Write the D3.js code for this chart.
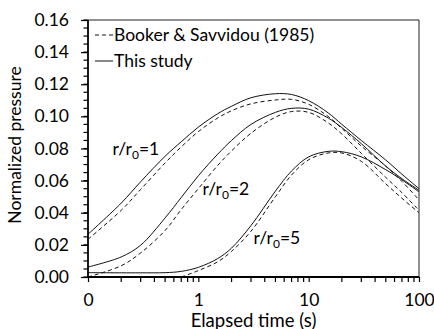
<!DOCTYPE html>
<html>
<head>
<meta charset="utf-8">
<script src="https://cdn.jsdelivr.net/npm/d3@7/dist/d3.min.js"></script>
<style>
  body { margin: 0; background: #fff; }
  svg { display: block; }
  text { font-family: Lato, "Open Sans", sans-serif; fill: #000; }
</style>
</head>
<body>
<svg id="chart" width="434" height="329"></svg>
<script>
// Elapsed time (s) at which each curve is sampled
const times = [0.1, 0.2, 0.3, 0.5, 0.7, 1, 1.5, 2, 3, 5, 7, 10, 15, 20, 30, 50, 70, 100];

// Normalized pressure, this study (solid)
const studyR1 = [0.0266, 0.046, 0.0593, 0.0752, 0.0842, 0.0933, 0.1017, 0.1063, 0.1116, 0.1141, 0.1136, 0.1098, 0.1022, 0.0950, 0.0850, 0.0728, 0.0640, 0.0550];
const studyR2 = [0.0062, 0.0125, 0.0198, 0.0368, 0.0495, 0.0630, 0.0765, 0.0850, 0.0950, 0.1025, 0.1050, 0.1045, 0.0990, 0.0930, 0.0830, 0.0690, 0.0612, 0.0540];
const studyR5 = [0.0027, 0.0026, 0.0026, 0.0027, 0.0035, 0.0060, 0.0115, 0.0180, 0.0320, 0.0535, 0.0660, 0.0748, 0.0782, 0.0780, 0.0748, 0.0668, 0.0605, 0.0530];

// Normalized pressure, Booker & Savvidou (1985) (dashed)
const bookerR1 = [0.0235, 0.0415, 0.0545, 0.0710, 0.0810, 0.0905, 0.0990, 0.1035, 0.1078, 0.1102, 0.1106, 0.1075, 0.1000, 0.0925, 0.0815, 0.0690, 0.0595, 0.0480];
const bookerR2 = [0.0, 0.0070, 0.0150, 0.0290, 0.0420, 0.0550, 0.0695, 0.0785, 0.0895, 0.0995, 0.1030, 0.1025, 0.0960, 0.0890, 0.0770, 0.0620, 0.0525, 0.0415];
const bookerR5 = [null, null, null, null, 0.0, 0.0040, 0.0095, 0.0160, 0.0285, 0.0500, 0.0635, 0.0730, 0.0772, 0.0772, 0.0720, 0.0580, 0.0490, 0.0400];

// Axis ticks
const yMajorTicks = [0, 0.02, 0.04, 0.06, 0.08, 0.10, 0.12, 0.14, 0.16];
const xMajorTicks = [0.1, 1, 10, 100];
const xTickLabels = ["0", "1", "10", "100"];

const svg = d3.select("#chart");
const plotLeft = 88, plotRight = 419, plotTop = 20, plotBottom = 277;

const x = d3.scaleLog().domain([0.1, 100]).range([plotLeft, plotRight]);
const y = d3.scaleLinear().domain([0, 0.16]).range([plotBottom, plotTop]);

// plot frame (top and right edges)
svg.append("path")
  .attr("d", `M${plotLeft},${plotTop}H${plotRight}V${plotBottom}`)
  .attr("fill", "none").attr("stroke", "#222").attr("stroke-width", 1);

// curves
const series = [
  { values: bookerR1, dash: "4,3" },
  { values: bookerR2, dash: "4,3" },
  { values: bookerR5, dash: "4,3" },
  { values: studyR1, dash: null },
  { values: studyR2, dash: null },
  { values: studyR5, dash: null }
];

const line = d3.line()
  .defined(d => d[1] !== null)
  .x(d => x(d[0]))
  .y(d => y(d[1]))
  .curve(d3.curveCatmullRom.alpha(0.5));

series.forEach(s => {
  svg.append("path")
    .datum(times.map((t, i) => [t, s.values[i]]))
    .attr("d", line)
    .attr("fill", "none")
    .attr("stroke", "#111")
    .attr("stroke-width", 1)
    .attr("stroke-dasharray", s.dash);
});

// y axis: majors every 0.02, minors every 0.005
const yMinor = d3.range(0, 0.1600001, 0.005);
svg.append("g").selectAll("line").data(yMinor).join("line")
  .attr("x1", plotLeft - 4.5).attr("x2", plotLeft)
  .attr("y1", d => y(d)).attr("y2", d => y(d))
  .attr("stroke", "#000").attr("stroke-width", 1.2);

const yAxis = d3.axisLeft(y).tickValues(yMajorTicks).tickFormat(d3.format(".2f")).tickSize(7).tickPadding(12);
svg.append("g").attr("transform", `translate(${plotLeft},0)`).call(yAxis)
  .call(g => g.select(".domain").remove())
  .call(g => g.selectAll(".tick line").attr("stroke", "#000").attr("stroke-width", 1.2))
  .call(g => g.selectAll("text").attr("font-family", "Lato").attr("font-size", 17.5).attr("fill", "#000"));

svg.append("line")
  .attr("x1", plotLeft).attr("x2", plotLeft).attr("y1", plotTop).attr("y2", plotBottom + 1)
  .attr("stroke", "#000").attr("stroke-width", 1.8);

// x axis: log decades with minor ticks 2..9
const xMinor = [];
[0.1, 1, 10].forEach(dec => { for (let k = 2; k <= 9; k++) xMinor.push(dec * k); });
svg.append("g").selectAll("line").data(xMinor).join("line")
  .attr("x1", d => x(d)).attr("x2", d => x(d))
  .attr("y1", plotBottom).attr("y2", plotBottom + 5)
  .attr("stroke", "#000").attr("stroke-width", 1.2);

const xAxis = d3.axisBottom(x).tickValues(xMajorTicks)
  .tickFormat((d, i) => xTickLabels[i]).tickSize(5).tickPadding(12);
svg.append("g").attr("transform", `translate(0,${plotBottom})`).call(xAxis)
  .call(g => g.select(".domain").remove())
  .call(g => g.selectAll(".tick line").attr("stroke", "#000").attr("stroke-width", 1.2))
  .call(g => g.selectAll("text").attr("font-family", "Lato").attr("font-size", 17.5).attr("fill", "#000"));

svg.append("line")
  .attr("x1", plotLeft - 1).attr("x2", plotRight).attr("y1", plotBottom).attr("y2", plotBottom)
  .attr("stroke", "#000").attr("stroke-width", 1.8);

// axis titles
svg.append("text")
  .attr("x", (plotLeft + plotRight) / 2).attr("y", 326.5)
  .attr("text-anchor", "middle").attr("font-size", 18.5)
  .text("Elapsed time (s)");

svg.append("text")
  .attr("transform", `translate(21,145) rotate(-90)`)
  .attr("text-anchor", "middle").attr("font-size", 17.5)
  .text("Normalized pressure");

// legend
const legend = [
  { label: "Booker & Savvidou (1985)", dash: "4,3", yv: 35 },
  { label: "This study", dash: null, yv: 61 }
];
legend.forEach(l => {
  svg.append("line")
    .attr("x1", 95).attr("x2", 113).attr("y1", l.yv).attr("y2", l.yv)
    .attr("stroke", "#111").attr("stroke-width", 1).attr("stroke-dasharray", l.dash);
  svg.append("text")
    .attr("x", 114).attr("y", l.yv).attr("dy", "0.35em")
    .attr("font-size", 17.5)
    .text(l.label);
});

// curve annotations r/r0 = 1, 2, 5
const annotations = [
  { ratio: "1", ax: 112.5, ay: 155 },
  { ratio: "2", ax: 202.5, ay: 195 },
  { ratio: "5", ax: 253.5, ay: 243.5 }
];
annotations.forEach(a => {
  const t = svg.append("text").attr("x", a.ax).attr("y", a.ay).attr("font-size", 17.5);
  t.append("tspan").text("r/r");
  t.append("tspan").attr("font-size", 12).attr("dy", 4).text("0");
  t.append("tspan").attr("dy", -4).text("=" + a.ratio);
});
</script>
</body>
</html>
